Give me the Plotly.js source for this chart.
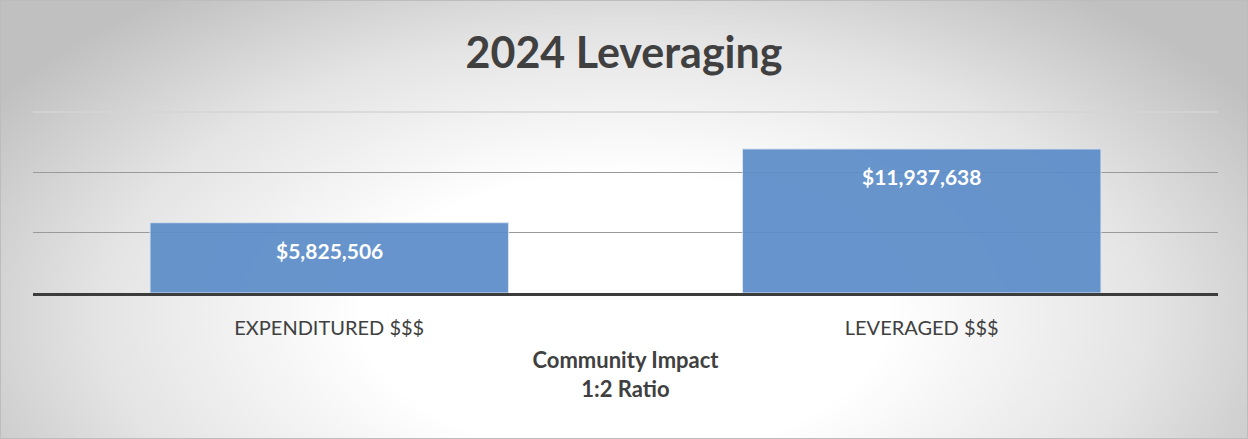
<!DOCTYPE html>
<html>
<head>
<meta charset="utf-8">
<script src="https://cdn.plot.ly/plotly-3.0.1.min.js"></script>
<style>
  html, body { margin: 0; padding: 0; background: #ffffff; }
  #wrap {
    width: 1248px; height: 439px; box-sizing: border-box;
    border: 1px solid #bdbdbd;
    background: radial-gradient(ellipse 60% 92% at 50% 72%, #ffffff 35%, #e4e4e4 70%, #c0c0c0 100%);
  }
  #chart { width: 1246px; height: 437px; }
</style>
</head>
<body>
<div id="wrap"><div id="chart"></div></div>
<script>
const categories = ["EXPENDITURED $$$", "LEVERAGED $$$"];
const values = [5825506, 11937638];
const valueLabels = ["$5,825,506", "$11,937,638"];
const titleText = "2024 Leveraging";
const xTitleText = "<b>Community Impact</b><br><b>1:2 Ratio</b>";

const font = "Lato, 'Open Sans', sans-serif";

const bars = {
  type: "bar",
  x: categories,
  y: values,
  marker: { color: "#5b8cc8", opacity: 0.92, line: { color: "#d6e2f0", width: 1 } },
  hoverinfo: "skip"
};

const annotations = categories.map((c, i) => ({
  x: c, y: values[i], xref: "x", yref: "y",
  text: "<b>" + valueLabels[i] + "</b>",
  showarrow: false, yanchor: "middle", yshift: -28,
  font: { family: font, size: 21, color: "#ffffff" }
}));

const layout = {
  width: 1246, height: 437,
  paper_bgcolor: "rgba(0,0,0,0)",
  plot_bgcolor: "rgba(0,0,0,0)",
  margin: { l: 32, r: 29, t: 111, b: 145 },
  bargap: 0.395,
  showlegend: false,
  title: {
    text: "<b>" + titleText + "</b>",
    x: 0.5, xanchor: "center", y: 0.88, yanchor: "middle",
    font: { family: font, size: 43, color: "#404040" }
  },
  xaxis: {
    type: "category",
    showline: true, linecolor: "#3c3c3c", linewidth: 3,
    ticks: "", ticklabelstandoff: 15,
    tickfont: { family: font, size: 20, color: "#404040" },
    title: { text: xTitleText, standoff: 15, font: { family: font, size: 22, color: "#404040" } },
    fixedrange: true
  },
  yaxis: {
    range: [0, 15000000],
    tickvals: [5000000, 10000000],
    showticklabels: false,
    showgrid: true, gridcolor: "#9a9a9a", gridwidth: 1.3,
    zeroline: false, fixedrange: true
  },
  shapes: [{
    type: "line", xref: "paper", yref: "paper", x0: 0, x1: 1, y0: 1, y1: 1,
    line: { color: "#d4d4d4", width: 1.5 }, layer: "below"
  }],
  annotations: annotations
};

Plotly.newPlot("chart", [bars], layout, { displayModeBar: false, staticPlot: true });
</script>
</body>
</html>
